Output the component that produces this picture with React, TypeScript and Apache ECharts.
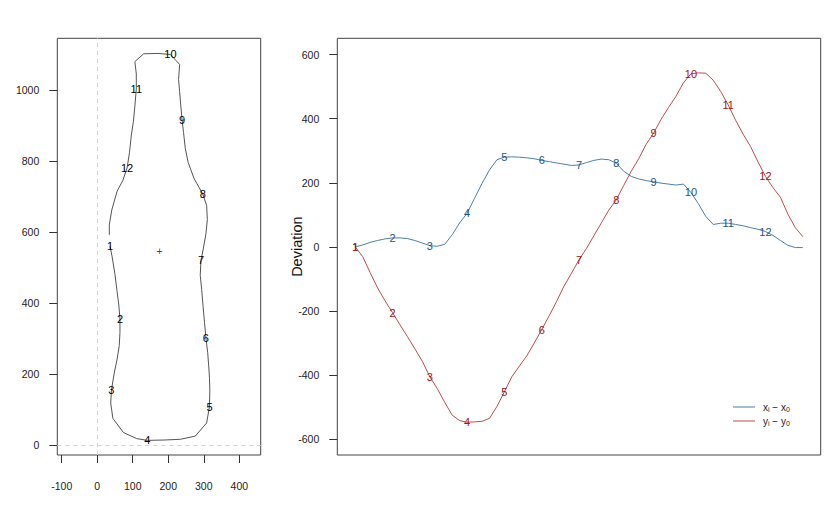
import React, { useEffect, useRef } from "react";
import * as echarts from "echarts";

// Contour deviations (one point per trace step)
const devX = [0, 6, 14, 20, 25, 28, 28, 26, 20, 12, 4, 2, 8, 38, 75, 105, 152, 198, 240, 272, 280, 281, 280, 278, 275, 270, 266, 262, 258, 254, 256, 263, 270, 274, 272, 261, 236, 220, 212, 207, 203, 199, 196, 193, 196, 170, 135, 95, 70, 74, 74, 70, 66, 60, 55, 48, 36, 20, 5, -2, -2];
const devY = [0, -30, -80, -128, -168, -205, -243, -280, -318, -357, -405, -442, -485, -525, -542, -547, -546, -544, -535, -498, -452, -405, -372, -340, -300, -258, -215, -170, -122, -82, -40, -5, 35, 75, 115, 147, 192, 236, 275, 320, 355, 398, 435, 470, 512, 540, 543, 542, 520, 485, 443, 395, 352, 313, 265, 220, 185, 155, 102, 60, 32];
// starting point (x0, y0) of the trace
const originX = 36;
const originY = 560;
// centroid marker
const centroid = [175, 544];
// numbered landmarks (zero-based index into the trace)
const landmarkIndex = [0, 5, 10, 15, 20, 25, 30, 35, 40, 45, 50, 55];
const landmarkNames = ["1", "2", "3", "4", "5", "6", "7", "8", "9", "10", "11", "12"];
// tick labels
const bottleXTicks = [-100, 0, 100, 200, 300, 400];
const bottleYTicks = [0, 200, 400, 600, 800, 1000];
const devTicks = [-600, -400, -200, 0, 200, 400, 600];

const BLUE_LINE = "#4f7fab";
const BLUE_TEXT = "#1f5485";
const RED_LINE = "#c24b4b";
const RED_TEXT = "#a01414";
const FONT = "Liberation Sans, Arial, Helvetica, sans-serif";

export default function App() {
  const ref = useRef<HTMLDivElement>(null);
  useEffect(() => {
    const chart = echarts.init(ref.current!, null, { renderer: "svg" });
    const n = devX.length;
    const bottle = devX.map((d, i) => [originX + d, originY + devY[i]]);
    const xSeries = devX.map((d, i) => [i + 1, d]);
    const ySeries = devY.map((d, i) => [i + 1, d]);
    const pad = 0.04 * (n - 1);

    const lbl = (pts: number[][]) =>
      landmarkIndex.map((k, j) => [pts[k][0], pts[k][1], landmarkNames[j]]);

    const textSeries = (name: string, xi: number, yi: number, data: any[], color: string, size: number) => ({
      type: "custom",
      name,
      xAxisIndex: xi,
      yAxisIndex: yi,
      data,
      silent: true,
      z: 5,
      encode: { x: 0, y: 1 },
      renderItem: (params: any, api: any) => {
        const p = api.coord([api.value(0), api.value(1)]);
        return {
          type: "text",
          x: p[0],
          y: p[1],
          style: {
            text: String(data[params.dataIndex][2]),
            fill: color,
            font: `${size}px ${FONT}`,
            align: "center",
            verticalAlign: "middle",
          },
        };
      },
    });

    const tickCommon = { length: 8, inside: false, lineStyle: { color: "#333", width: 1 } };
    const labCommon = { fontSize: 10.5, color: "#222", fontFamily: FONT, formatter: (v: number) => String(v) };
    const hiddenLine = { show: false, onZero: false };

    const sub = {
      n: { fontSize: 10, fontFamily: FONT, fill: "#222", color: "#222" },
      s: { fontSize: 7, fontFamily: FONT, fill: "#222", color: "#222", padding: [5, 0, 0, 0] },
    };

    const option: any = {
      animation: false,
      textStyle: { fontFamily: FONT },
      grid: [
        { left: 57.3, top: 38.3, width: 203.4, height: 416.7, show: true, borderColor: "#444", borderWidth: 1, backgroundColor: "transparent" },
        { left: 337.3, top: 38.3, width: 483.4, height: 416.7, show: true, borderColor: "#444", borderWidth: 1, backgroundColor: "transparent" },
      ],
      xAxis: [
        {
          type: "value", gridIndex: 0, min: -112.4, max: 460.2, position: "bottom",
          splitLine: { show: false }, axisLine: hiddenLine,
          axisTick: { show: true, customValues: bottleXTicks, ...tickCommon },
          axisLabel: { show: true, customValues: bottleXTicks, margin: 25, ...labCommon },
        },
        {
          type: "value", gridIndex: 1, min: 1 - pad, max: n + pad,
          splitLine: { show: false }, axisLine: hiddenLine,
          axisTick: { show: false }, axisLabel: { show: false },
        },
      ],
      yAxis: [
        {
          type: "value", gridIndex: 0, min: -28.2, max: 1145.6, position: "left",
          splitLine: { show: false }, axisLine: hiddenLine,
          axisTick: { show: true, customValues: bottleYTicks, ...tickCommon },
          axisLabel: { show: true, customValues: bottleYTicks, margin: 18, ...labCommon },
        },
        {
          type: "value", gridIndex: 1, min: -649.3, max: 650.9, position: "left",
          splitLine: { show: false }, axisLine: hiddenLine,
          axisTick: { show: true, customValues: devTicks, ...tickCommon },
          axisLabel: { show: true, customValues: devTicks, margin: 18, ...labCommon },
          name: "Deviation", nameLocation: "middle", nameGap: 33, nameMoveOverlap: false,
          nameTextStyle: { fontSize: 14.5, color: "#111", fontFamily: FONT },
        },
      ],
      graphic: [
        { type: "line", shape: { x1: 733, y1: 407, x2: 755, y2: 407 }, style: { stroke: BLUE_LINE, lineWidth: 1 }, silent: true },
        { type: "line", shape: { x1: 733, y1: 421, x2: 755, y2: 421 }, style: { stroke: RED_LINE, lineWidth: 1 }, silent: true },
        {
          type: "text", x: 763, y: 407, silent: true,
          style: { text: "{n|x}{s|i}{n| \u2212 x}{s|0}", rich: sub, verticalAlign: "middle", align: "left" },
        },
        {
          type: "text", x: 763, y: 421, silent: true,
          style: { text: "{n|y}{s|i}{n| \u2212 y}{s|0}", rich: sub, verticalAlign: "middle", align: "left" },
        },
      ],
      series: [
        {
          type: "line",
          name: "bottle",
          xAxisIndex: 0, yAxisIndex: 0,
          data: bottle,
          showSymbol: false,
          symbol: "none",
          lineStyle: { color: "#555", width: 1 },
          itemStyle: { color: "#555" },
          silent: true,
          markLine: {
            silent: true,
            symbol: ["none", "none"],
            label: { show: false },
            lineStyle: { type: [4, 4], color: "#d3d3d3", width: 1 },
            data: [{ xAxis: 0 }, { yAxis: 0 }],
            z: 1,
          },
        },
        textSeries("centroid", 0, 0, [[centroid[0], centroid[1], "+"]], "#444", 10),
        textSeries("bottleLabels", 0, 0, lbl(bottle), "#000", 11),
        {
          type: "line",
          name: "x",
          xAxisIndex: 1, yAxisIndex: 1,
          data: xSeries,
          showSymbol: false,
          symbol: "none",
          lineStyle: { color: BLUE_LINE, width: 1 },
          itemStyle: { color: BLUE_LINE },
          silent: true,
        },
        {
          type: "line",
          name: "y",
          xAxisIndex: 1, yAxisIndex: 1,
          data: ySeries,
          showSymbol: false,
          symbol: "none",
          lineStyle: { color: RED_LINE, width: 1 },
          itemStyle: { color: RED_LINE },
          silent: true,
        },
        textSeries("xLabels", 1, 1, lbl(xSeries), BLUE_TEXT, 11),
        textSeries("yLabels", 1, 1, lbl(ySeries), RED_TEXT, 11),
      ],
    };
    chart.setOption(option);
    return () => chart.dispose();
  }, []);
  return (
    <div
      ref={ref}
      style={{ position: "fixed", left: 0, top: 0, width: 840, height: 513, background: "#fff" }}
    />
  );
}
